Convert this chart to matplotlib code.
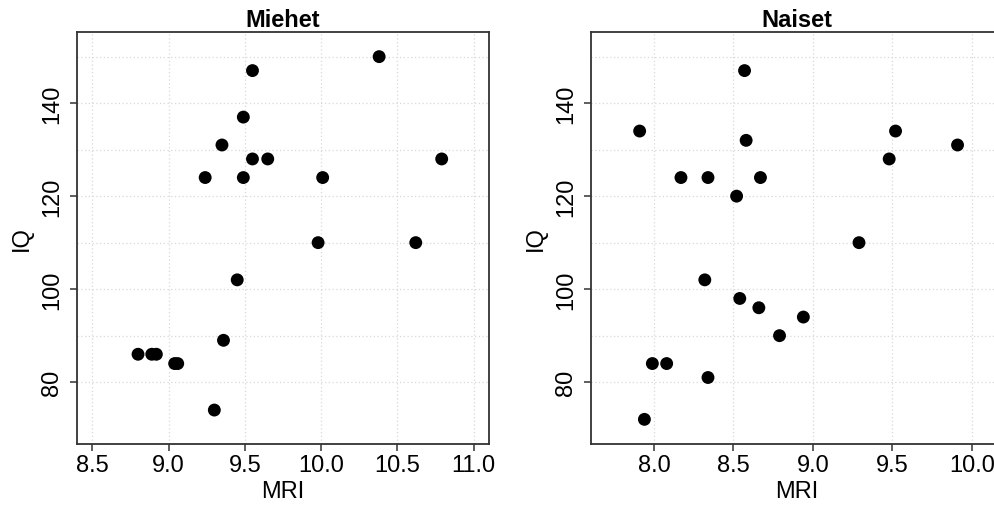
import matplotlib
matplotlib.use("Agg")
import matplotlib.pyplot as plt
import numpy as np

plt.rcParams['font.family'] = ['Liberation Sans', 'DejaVu Sans']

# Data
men_mri = [10.38, 9.55, 9.49, 9.35, 9.55, 9.65, 10.79, 9.24, 9.49, 10.01,
           9.98, 10.62, 9.45, 9.36, 8.80, 8.89, 8.92, 9.04, 9.06, 9.30]
men_iq = [150, 147, 137, 131, 128, 128, 128, 124, 124, 124,
          110, 110, 102, 89, 86, 86, 86, 84, 84, 74]

women_mri = [8.57, 7.91, 9.52, 8.58, 9.91, 9.48, 8.17, 8.34, 8.67, 8.52,
             9.29, 8.32, 8.54, 8.66, 8.94, 8.79, 7.99, 8.08, 8.34, 7.94]
women_iq = [147, 134, 134, 132, 131, 128, 124, 124, 124, 120,
            110, 102, 98, 96, 94, 90, 84, 84, 81, 72]

titles = ["Miehet", "Naiset"]
x_ticks = [[8.5, 9.0, 9.5, 10.0, 10.5, 11.0], [8.0, 8.5, 9.0, 9.5, 10.0]]
y_ticks = [80, 100, 120, 140]
y_grid = [80, 90, 100, 110, 120, 130, 140, 150]
xlims = [(8.4, 11.1), (7.604, 10.196)]
ylim = (66.7, 155.3)

W, H = 995, 506
fig = plt.figure(figsize=(W / 100, H / 100), dpi=100)

frame_col = '#333333'
grid_col = '#d8d8d8'

lefts = [77, 591]
for i, (xs, ys) in enumerate([(men_mri, men_iq), (women_mri, women_iq)]):
    ax = fig.add_axes([lefts[i] / W, (H - 445) / H, 412 / W, 412 / H])
    ax.set_xlim(*xlims[i])
    ax.set_ylim(*ylim)
    for gx in x_ticks[i]:
        ax.axvline(gx, color=grid_col, lw=0.9, ls=(0, (1, 2)), zorder=0)
    for gy in y_grid:
        ax.axhline(gy, color=grid_col, lw=0.9, ls=(0, (1, 2)), zorder=0)
    ax.scatter(xs, ys, s=86, color='black', edgecolors='none', zorder=3, clip_on=False)
    ax.set_xticks(x_ticks[i])
    ax.set_xticklabels([f"{t:.1f}" for t in x_ticks[i]])
    ax.set_yticks(y_ticks)
    ax.set_yticklabels([str(t) for t in y_ticks], rotation=90, va='center')
    ax.tick_params(axis='both', direction='out', length=5, width=1.1,
                   color=frame_col, labelsize=17, labelcolor='black')
    ax.tick_params(axis='x', pad=2)
    ax.tick_params(axis='y', pad=5)
    for sp in ax.spines.values():
        sp.set_color(frame_col)
        sp.set_linewidth(1.3)
    ax.set_xlabel("MRI", fontsize=17, labelpad=3)
    ax.set_ylabel("IQ", fontsize=17, labelpad=6)
    ax.set_title(titles[i], fontsize=17, fontweight='bold', pad=4)

fig.savefig("out.png", dpi=100)
